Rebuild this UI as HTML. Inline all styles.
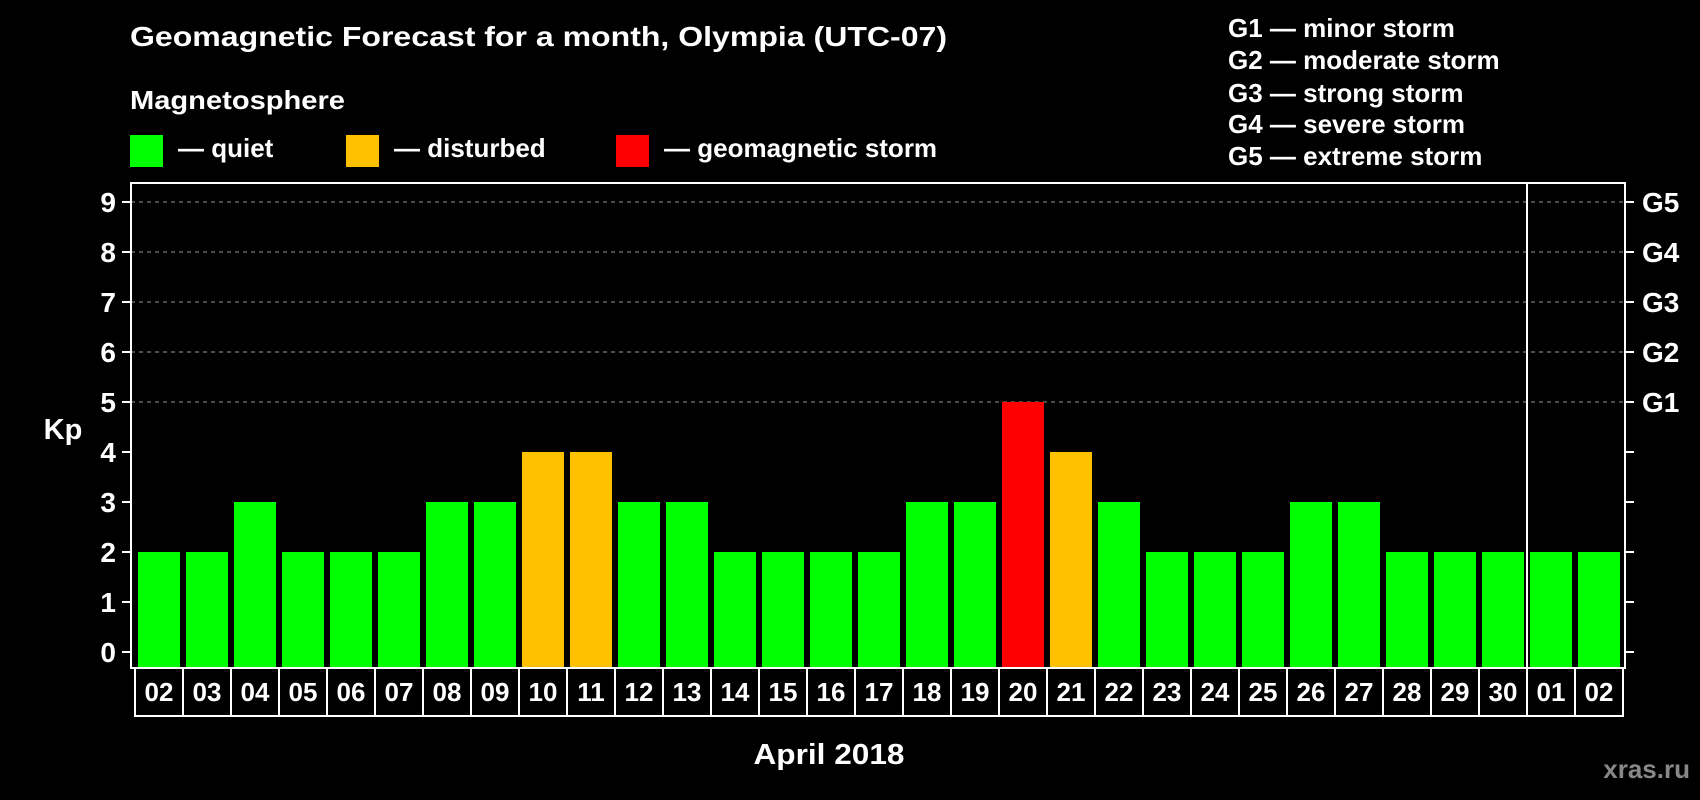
<!DOCTYPE html>
<html><head><meta charset="utf-8"><style>
html,body{margin:0;padding:0;background:#000;}
svg{display:block;font-family:"Liberation Sans",Arial,sans-serif;font-weight:bold;}
</style></head><body>
<svg id="chart" width="1700" height="800" viewBox="0 0 1700 800" xmlns="http://www.w3.org/2000/svg">
<rect x="0" y="0" width="1700" height="800" fill="#000"/>
<text x="130" y="46" fill="#fff" font-size="28" textLength="817" lengthAdjust="spacingAndGlyphs">Geomagnetic Forecast for a month, Olympia (UTC-07)</text>
<text x="130" y="109" fill="#fff" font-size="26" textLength="215" lengthAdjust="spacingAndGlyphs">Magnetosphere</text>
<g><rect x="130" y="135" width="33" height="32" fill="#00ff00"/><text x="178" y="157" fill="#fff" font-size="26">— quiet</text></g>
<g><rect x="346" y="135" width="33" height="32" fill="#ffc000"/><text x="394" y="157" fill="#fff" font-size="26">— disturbed</text></g>
<g><rect x="616" y="135" width="33" height="32" fill="#ff0000"/><text x="664" y="157" fill="#fff" font-size="26">— geomagnetic storm</text></g>
<g fill="#fff" font-size="26">
<text x="1228" y="37">G1 — minor storm</text>
<text x="1228" y="69">G2 — moderate storm</text>
<text x="1228" y="102">G3 — strong storm</text>
<text x="1228" y="133">G4 — severe storm</text>
<text x="1228" y="165">G5 — extreme storm</text>
</g>
<text x="63" y="439" fill="#fff" font-size="29" text-anchor="middle">Kp</text>
<text x="829" y="764" fill="#fff" font-size="29" text-anchor="middle" textLength="151" lengthAdjust="spacingAndGlyphs">April 2018</text>
<text x="1690" y="778" fill="#888" font-size="26" text-anchor="end">xras.ru</text>
<g id="grid"></g><g id="bars"></g><g id="axes"></g>
</svg>
<script>
const categories = ["02","03","04","05","06","07","08","09","10","11","12","13","14","15","16","17","18","19","20","21","22","23","24","25","26","27","28","29","30","01","02"];
const kpValues = [2,2,3,2,2,2,3,3,4,4,3,3,2,2,2,2,3,3,5,4,3,2,2,2,3,3,2,2,2,2,2];
const yTicks = [0,1,2,3,4,5,6,7,8,9];
const gLabels = ["G1","G2","G3","G4","G5"];
const monthBreakIndex = 29;

const NS = "http://www.w3.org/2000/svg";
const plotLeft = 131, plotRight = 1625, plotTop = 183, plotBottom = 668;
const y0 = 652, unit = 50;
const x0 = 159, pitch = 48, barW = 42;
function yScale(v){ return y0 - v*unit; }
function xScale(i){ return x0 + i*pitch; }
function colorFor(v){ return v >= 5 ? "#ff0000" : (v >= 4 ? "#ffc000" : "#00ff00"); }
function mk(tag, attrs, parent){ const e=document.createElementNS(NS,tag); for(const k in attrs) e.setAttribute(k,attrs[k]); parent.appendChild(e); return e; }

const gridG = document.getElementById('grid');
const barsG = document.getElementById('bars');
const axesG = document.getElementById('axes');

yTicks.forEach(v => {
  if (v >= 5) {
    const l = mk('line',{x1:plotLeft,x2:plotRight,y1:yScale(v),y2:yScale(v),stroke:'#999','stroke-width':1,'stroke-dasharray':'4,4'},gridG);
    
    
  }
  const t1 = mk('line',{x1:122,x2:plotLeft,y1:yScale(v),y2:yScale(v),stroke:'#fff','stroke-width':2},axesG);
  
  
  const t2 = mk('line',{x1:plotRight,x2:plotRight+9,y1:yScale(v),y2:yScale(v),stroke:'#fff','stroke-width':2},axesG);
  
  
  const lab = mk('text',{x:116,y:yScale(v)+10,fill:'#fff','font-size':28,'text-anchor':'end'},axesG);
  lab.textContent = v;
  
  
});
gLabels.forEach((g,k) => {
  const lab = mk('text',{x:1642,y:yScale(5+k)+10,fill:'#fff','font-size':28},axesG);
  lab.textContent = g;
  
  
});

kpValues.forEach((v,i) => {
  const r = mk('rect',{x:xScale(i)-barW/2,y:yScale(v),width:barW,height:plotBottom-yScale(v),fill:colorFor(v)},barsG);
  
  
});

const frame = mk('rect',{x:plotLeft,y:plotTop,width:plotRight-plotLeft,height:plotBottom-plotTop,fill:'none',stroke:'#fff','stroke-width':2},axesG);


const sepX = xScale(monthBreakIndex) - pitch/2;
const sep = mk('line',{x1:sepX,x2:sepX,y1:plotTop,y2:plotBottom,stroke:'#fff','stroke-width':2},axesG);



const boxL = xScale(0)-pitch/2, boxR = xScale(categories.length-1)+pitch/2;
const box = mk('rect',{x:boxL,y:plotBottom,width:boxR-boxL,height:716-plotBottom,fill:'none',stroke:'#fff','stroke-width':2},axesG);


categories.forEach((c,i) => {
  if (i>0) {
    const d = mk('line',{x1:xScale(i)-pitch/2,x2:xScale(i)-pitch/2,y1:plotBottom,y2:716,stroke:'#fff','stroke-width':2},axesG);
    
    
  }
  const t = mk('text',{x:xScale(i),y:701,fill:'#fff','font-size':26,'text-anchor':'middle'},axesG);
  t.textContent = c;
  
  
});
</script>
</body></html>
